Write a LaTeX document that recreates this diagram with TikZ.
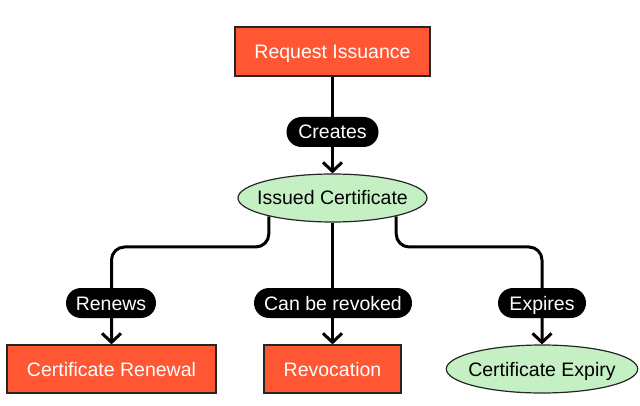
\documentclass[tikz,border=0pt]{standalone}
\usepackage{fontspec}
\setmainfont{Liberation Sans}
\usetikzlibrary{shapes.geometric,arrows.meta,backgrounds,calc}
\definecolor{boxfill}{RGB}{255,87,51}
\definecolor{ellfill}{RGB}{196,240,196}
\begin{document}
\begin{tikzpicture}[x=1pt,y=-1pt,
  txt/.style={font=\fontsize{19.5}{23}\selectfont, text height=14pt, text depth=0pt},
  boxnode/.style={txt, draw=black!85, line width=1.2pt, fill=boxfill, text=white, minimum height=49pt, inner sep=0pt},
  ellnode/.style={txt, ellipse, draw=black!85, line width=1.2pt, fill=ellfill, text=black, minimum height=48pt, inner ysep=0pt},
  lbl/.style={txt, rounded corners=15pt, fill=black, text=white, minimum height=30pt, inner sep=0pt},
  edge/.style={line width=3pt, rounded corners=13pt, -{Straight Barb[length=9pt,width=19pt,line width=3pt]}}]
\useasboundingbox (0,0) rectangle (640,406);
\node[boxnode, minimum width=195pt] (req) at (332.5,51.5) {Request Issuance};
\node[lbl, minimum width=92pt] (creates) at (332.5,132) {Creates};
\node[ellnode, inner xsep=-8.5pt] (issued) at (332.5,198) {Issued Certificate};
\node[lbl, minimum width=90pt] (ren) at (111,303) {Renews};
\node[lbl, minimum width=158pt] (revk) at (333,303) {Can be revoked};
\node[lbl, minimum width=88pt] (exp) at (542,303) {Expires};
\node[boxnode, minimum width=209pt, minimum height=48pt] (renewal) at (111.5,369) {Certificate Renewal};
\node[boxnode, minimum width=137pt, minimum height=48pt] (revoc) at (332.5,369) {Revocation};
\node[ellnode, inner xsep=-6pt] (expiry) at (542,369) {Certificate Expiry};
\coordinate (lk) at (0,247);
\begin{scope}[on background layer]
\draw[edge] (req) -- (issued);
\draw[edge] (issued.196) -- (issued.196 |- lk) -- (renewal.north |- lk) -- (renewal.north);
\draw[edge] (issued) -- (revoc);
\draw[edge] (issued.344) -- (issued.344 |- lk) -- (expiry.north |- lk) -- (expiry.north);
\end{scope}
\end{tikzpicture}
\end{document}
